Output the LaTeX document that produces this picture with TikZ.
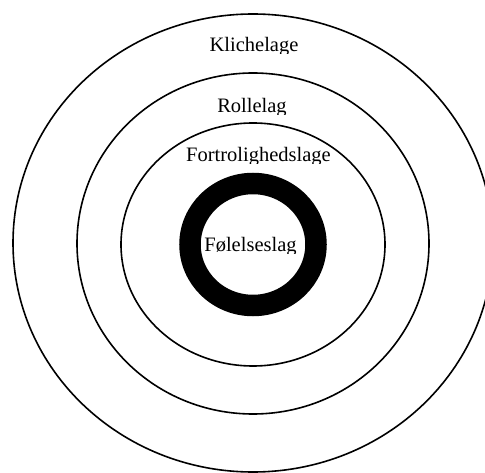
\documentclass[tikz,border=0pt]{standalone}
\usepackage{fontspec}
\setmainfont{Liberation Serif}
\begin{document}
\begin{tikzpicture}[x=1pt,y=-1pt,
  ring/.style={draw=black,line width=1.6pt},
  corering/.style={draw=black,line width=21.5pt},
  lab/.style={anchor=base,inner sep=0pt,font=\fontsize{20.5}{24}\selectfont}]
\useasboundingbox[fill=white] (0,0) rectangle (485,473);
\draw[ring] (253,243) ellipse [x radius=240,y radius=229];
\draw[ring] (253,243.5) ellipse [x radius=176,y radius=170.5];
\draw[ring] (253,244.5) ellipse [x radius=132,y radius=121.5];
\draw[corering] (253,244.5) ellipse [x radius=63,y radius=61];
\begin{scope}
\clip (150,30) rectangle (360,54);
\node[lab] (kl) at (254,52) {Klichelage};
\end{scope}
\begin{scope}
\clip (150,90) rectangle (360,115);
\node[lab] (ro) at (252,113) {Rollelag};
\end{scope}
\begin{scope}
\clip (150,140) rectangle (360,164);
\node[lab] (fo) at (258.5,162) {Fortrolighedslage};
\end{scope}
\begin{scope}
\clip (190,225) rectangle (320,254);
\node[lab] (fl) at (250.5,252) {Følelseslag};
\end{scope}
\end{tikzpicture}
\end{document}
